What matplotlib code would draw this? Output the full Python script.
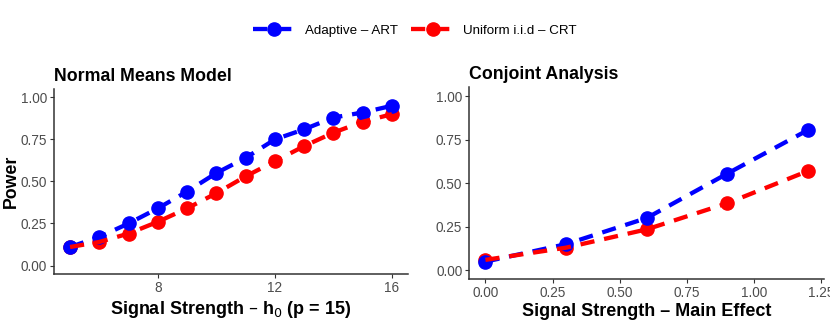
import matplotlib
matplotlib.use("Agg")
import matplotlib.pyplot as plt
from matplotlib.lines import Line2D

plt.rcParams['font.family'] = ['Liberation Sans', 'DejaVu Sans']

# Normal means model
h0 = [5, 6, 7, 8, 9, 10, 11, 12, 13, 14, 15, 16]
nm_art = [0.11, 0.17, 0.25, 0.34, 0.44, 0.55, 0.64, 0.75, 0.81, 0.88, 0.91, 0.95]
nm_crt = [0.11, 0.14, 0.19, 0.26, 0.34, 0.43, 0.53, 0.62, 0.71, 0.79, 0.855, 0.90]

# Conjoint analysis
main_eff = [0.0, 0.3, 0.6, 0.9, 1.2]
ca_art = [0.05, 0.15, 0.30, 0.555, 0.805]
ca_crt = [0.06, 0.13, 0.235, 0.385, 0.57]

labels = ['Adaptive \u2013 ART', 'Uniform i.i.d \u2013 CRT']
colors = ['#0000FF', '#FF0000']
yticks = [0.0, 0.25, 0.5, 0.75, 1.0]

LW = 3.1
DASH = (0, (3.3, 2.3))
MS = 9.5

fig = plt.figure(figsize=(8.3, 3.2), dpi=100)
ax1 = fig.add_axes([0.065, 0.144, 0.4266, 0.578])
ax2 = fig.add_axes([0.5654, 0.128, 0.4274, 0.599])

def draw(ax, x, art, crt):
    # points first, dashed lines on top (like ggplot layer order)
    ax.plot(x, crt, ls='none', marker='o', ms=MS, color=colors[1], zorder=2)
    ax.plot(x, art, ls='none', marker='o', ms=MS, color=colors[0], zorder=2)
    ax.plot(x, art, color=colors[0], lw=LW, ls=DASH, zorder=3)
    ax.plot(x, crt, color=colors[1], lw=LW, ls=DASH, zorder=3)
    ax.set_ylim(-0.05, 1.05)
    ax.set_yticks(yticks)
    ax.set_yticklabels(['0.00', '0.25', '0.50', '0.75', '1.00'])
    for s in ['top', 'right']:
        ax.spines[s].set_visible(False)
    for s in ['left', 'bottom']:
        ax.spines[s].set_linewidth(1.1)
        ax.spines[s].set_color('#333333')
    ax.tick_params(colors='#333333', labelcolor='#4D4D4D', labelsize=9.8,
                   length=3, width=0.8, pad=2)

draw(ax1, h0, nm_art, nm_crt)
ax1.set_xlim(4.45, 16.55)
ax1.set_xticks([8, 12, 16])
ax1.set_title('Normal Means Model', loc='left', fontsize=12.8, fontweight='bold', pad=6)
ax1.set_ylabel('Power', fontsize=12.8, fontweight='bold')
ax1.yaxis.set_label_coords(-0.096, 0.5)
ax1.set_xlabel('Signal Strength \u2013 h$_0$ (p = 15)', fontsize=13, fontweight='bold', labelpad=3)

draw(ax2, main_eff, ca_art, ca_crt)
ax2.set_xlim(-0.06, 1.26)
ax2.set_xticks([0, 0.25, 0.5, 0.75, 1.0, 1.25])
ax2.set_xticklabels(['0.00', '0.25', '0.50', '0.75', '1.00', '1.25'])
ax2.set_title('Conjoint Analysis', loc='left', fontsize=12.8, fontweight='bold', pad=6)
ax2.set_xlabel('Signal Strength \u2013 Main Effect', fontsize=13, fontweight='bold', labelpad=2)

handles = [Line2D([], [], color=c, lw=LW, ls=DASH, marker='o', ms=MS) for c in colors]
fig.legend(handles, labels, loc='center', bbox_to_anchor=(0.5, 0.905), ncol=2,
           frameon=False, fontsize=9.6, handlelength=3.2, columnspacing=1.0,
           handletextpad=0.7)

fig.savefig('out.png', dpi=100)
